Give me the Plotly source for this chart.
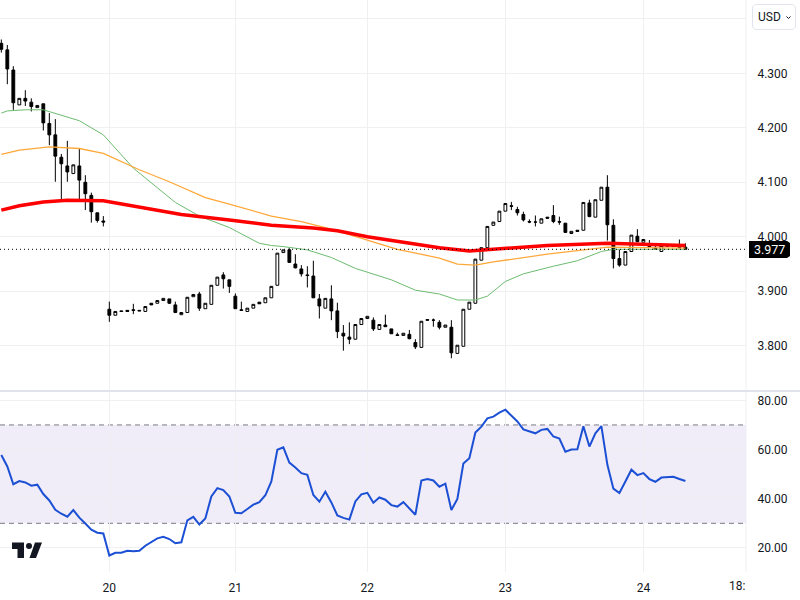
import plotly.graph_objects as go
from plotly.subplots import make_subplots

# hourly candles
open_prices = [
    4.355, 4.343, 4.306, 4.242, 4.254, 4.247, 4.237, 4.244, 4.208, 4.187,
    4.146, 4.130, 4.116, 4.130, 4.100, 4.076, 4.044, 4.029, 3.867, 3.856,
    3.864, 3.865, 3.866, 3.865, 3.863, 3.878, 3.878, 3.883, 3.886, 3.875,
    3.857, 3.861, 3.890, 3.895, 3.868, 3.876, 3.911, 3.930, 3.921, 3.891,
    3.866, 3.863, 3.869, 3.880, 3.879, 3.888, 3.911, 3.971, 3.976, 3.950,
    3.941, 3.930, 3.928, 3.886, 3.869, 3.886, 3.864, 3.823, 3.816, 3.812,
    3.839, 3.850, 3.847, 3.830, 3.838, 3.831, 3.820, 3.819, 3.821, 3.806,
    3.797, 3.848, 3.847, 3.843, 3.834, 3.834, 3.786, 3.799, 3.867, 3.878,
    3.957, 3.980, 4.021, 4.028, 4.047, 4.057, 4.050, 4.041, 4.028, 4.027,
    4.025, 4.036, 4.039, 4.028, 4.025, 4.006, 4.012, 4.012, 4.062, 4.036,
    4.067, 4.091, 4.021, 3.960, 3.948, 3.973, 4.001, 3.990, 3.985, 3.979,
    3.973, 3.984, 3.984, 3.983, 3.981,
]
high_prices = [
    4.362, 4.352, 4.313, 4.254, 4.269, 4.254, 4.241, 4.244, 4.227, 4.216,
    4.152, 4.176, 4.132, 4.161, 4.113, 4.081, 4.044, 4.038, 3.881, 3.863,
    3.864, 3.865, 3.877, 3.865, 3.872, 3.878, 3.883, 3.887, 3.886, 3.881,
    3.861, 3.889, 3.894, 3.899, 3.878, 3.911, 3.926, 3.935, 3.921, 3.896,
    3.881, 3.869, 3.876, 3.880, 3.888, 3.909, 3.970, 3.976, 3.979, 3.968,
    3.948, 3.946, 3.956, 3.895, 3.887, 3.911, 3.879, 3.838, 3.843, 3.839,
    3.850, 3.854, 3.852, 3.839, 3.857, 3.831, 3.824, 3.823, 3.829, 3.812,
    3.845, 3.848, 3.850, 3.847, 3.838, 3.847, 3.801, 3.867, 3.880, 3.959,
    3.980, 4.019, 4.027, 4.047, 4.061, 4.064, 4.055, 4.046, 4.032, 4.039,
    4.033, 4.036, 4.058, 4.037, 4.025, 4.010, 4.012, 4.063, 4.068, 4.068,
    4.091, 4.113, 4.032, 3.977, 3.973, 4.003, 4.014, 3.995, 3.994, 3.983,
    3.984, 3.984, 3.984, 3.995, 3.988,
]
low_prices = [
    4.338, 4.280, 4.233, 4.242, 4.240, 4.230, 4.237, 4.195, 4.168, 4.101,
    4.064, 4.101, 4.116, 4.064, 4.049, 4.026, 4.026, 4.019, 3.844, 3.856,
    3.863, 3.863, 3.858, 3.864, 3.863, 3.875, 3.878, 3.883, 3.877, 3.860,
    3.857, 3.861, 3.890, 3.864, 3.868, 3.876, 3.911, 3.905, 3.897, 3.868,
    3.864, 3.863, 3.869, 3.877, 3.879, 3.888, 3.911, 3.971, 3.953, 3.942,
    3.927, 3.907, 3.888, 3.850, 3.869, 3.847, 3.814, 3.791, 3.803, 3.812,
    3.839, 3.850, 3.827, 3.830, 3.835, 3.822, 3.818, 3.819, 3.812, 3.794,
    3.797, 3.847, 3.835, 3.830, 3.834, 3.777, 3.786, 3.799, 3.867, 3.878,
    3.957, 3.980, 4.021, 4.028, 4.047, 4.049, 4.039, 4.028, 4.025, 4.019,
    4.025, 4.034, 4.025, 4.022, 4.008, 4.006, 4.010, 4.012, 4.036, 4.036,
    4.067, 3.993, 3.942, 3.945, 3.948, 3.973, 3.990, 3.990, 3.981, 3.976,
    3.973, 3.983, 3.982, 3.979, 3.977,
]
close_prices = [
    4.344, 4.308, 4.246, 4.254, 4.249, 4.239, 4.241, 4.209, 4.187, 4.148,
    4.134, 4.119, 4.132, 4.104, 4.079, 4.046, 4.030, 4.027, 3.856, 3.863,
    3.863, 3.863, 3.865, 3.864, 3.872, 3.875, 3.883, 3.887, 3.878, 3.861,
    3.861, 3.889, 3.894, 3.869, 3.878, 3.911, 3.926, 3.923, 3.909, 3.868,
    3.865, 3.869, 3.876, 3.877, 3.888, 3.909, 3.970, 3.976, 3.953, 3.943,
    3.932, 3.929, 3.888, 3.873, 3.887, 3.864, 3.826, 3.818, 3.812, 3.839,
    3.850, 3.854, 3.831, 3.839, 3.835, 3.822, 3.819, 3.823, 3.813, 3.798,
    3.845, 3.847, 3.847, 3.834, 3.838, 3.787, 3.801, 3.867, 3.880, 3.959,
    3.980, 4.019, 4.027, 4.047, 4.061, 4.056, 4.044, 4.031, 4.027, 4.027,
    4.033, 4.034, 4.028, 4.027, 4.008, 4.010, 4.010, 4.063, 4.037, 4.068,
    4.091, 4.022, 3.960, 3.948, 3.973, 4.003, 3.991, 3.995, 3.982, 3.977,
    3.984, 3.983, 3.982, 3.980, 3.977,
]
bars = list(range(len(close_prices)))

# moving averages, read at the bars where the curves bend
red_bars = [0, 3, 7, 11, 17, 24, 30, 38, 45, 52, 56, 61, 68, 73, 78, 84, 91, 101, 114]
red_values = [4.049, 4.057, 4.064, 4.067, 4.066, 4.053, 4.041, 4.031, 4.021, 4.016,
              4.011, 4.000, 3.989, 3.980, 3.974, 3.978, 3.984, 3.988, 3.984]
orange_bars = [0, 3, 8, 13, 17, 23, 28, 34, 38, 45, 50, 55, 61, 66, 73, 76, 79, 82, 91, 98, 101, 114]
orange_values = [4.151, 4.159, 4.165, 4.162, 4.153, 4.123, 4.101, 4.072, 4.060, 4.038, 4.028,
                 4.014, 3.994, 3.977, 3.961, 3.950, 3.948, 3.954, 3.968, 3.977, 3.981, 3.979]
green_bars = [0, 1, 4, 7, 13, 17, 22, 29, 33, 38, 43, 45, 47, 51, 55, 59, 65, 69, 73, 76, 79,
              81, 84, 87, 92, 96, 100, 102, 114]
green_values = [4.227, 4.231, 4.233, 4.233, 4.213, 4.187, 4.126, 4.063, 4.038, 4.017, 3.988,
                3.984, 3.982, 3.976, 3.962, 3.942, 3.921, 3.902, 3.895, 3.884, 3.884,
                3.891, 3.918, 3.932, 3.946, 3.956, 3.973, 3.977, 3.977]

rsi_values = [
    57.8, 53.1, 45.9, 47.2, 46.6, 45.3, 45.7, 41.9, 39.3, 35.5,
    33.9, 32.7, 35.4, 32.3, 29.9, 27.4, 26.2, 25.9, 16.9, 18.0,
    18.0, 18.8, 18.6, 18.8, 20.9, 22.3, 23.9, 24.5, 23.6, 21.9,
    22.3, 31.2, 32.6, 29.5, 32.0, 40.9, 44.3, 43.5, 40.9, 34.3,
    34.1, 35.8, 37.6, 38.6, 41.4, 47.0, 59.9, 60.9, 54.7, 52.7,
    50.4, 49.7, 41.5, 38.8, 42.8, 38.5, 33.2, 32.2, 31.5, 38.9,
    41.8, 42.4, 38.4, 40.5, 39.6, 37.4, 36.8, 38.6, 36.2, 33.5,
    47.4, 48.0, 47.4, 44.9, 46.1, 35.4, 39.9, 54.3, 56.5, 66.9,
    69.3, 72.7, 73.4, 75.0, 76.2, 73.6, 71.4, 68.2, 67.4, 66.6,
    68.0, 68.4, 65.3, 64.5, 59.1, 60.0, 60.1, 69.5, 61.2, 66.6,
    69.5, 53.8, 44.1, 42.3, 47.0, 51.8, 49.6, 50.4, 48.0, 46.9,
    48.6, 48.6, 48.9, 48.0, 47.2,
]
rsi_upper = 70
rsi_lower = 30

day_ticks = [18, 39, 61, 84, 107]
day_labels = ["20", "21", "22", "23", "24"]
price_ticks = [3.8, 3.9, 4.0, 4.1, 4.2, 4.3, 4.4]
# the top gridline has no visible label, the currency button sits there
price_labels = ["3.800", "3.900", "4.000", "4.100", "4.200", "4.300", ""]
rsi_ticks = [20, 40, 60, 80]
rsi_labels = ["20.00", "40.00", "60.00", "80.00"]
last_price = "3.977"

PLOT_W = 746
PLOT_H = 572
GRID = "#F0F0F3"
TEXT = "#131722"
FONT = "Roboto"


def px(x, y):
    return f"{x / PLOT_W:.5f},{1 - y / PLOT_H:.5f}"


def chrome(points, **kwargs):
    path = "M" + " L".join(px(x, y) for x, y in points) + " Z"
    return dict(type="path", path=path, xref="paper", yref="paper", layer="above",
                line={"width": 0}, **kwargs)


def label(text, x, y, anchor="center", color=TEXT, size=12):
    return dict(text=text, xref="paper", yref="paper", x=x / PLOT_W, y=1 - y / PLOT_H,
                xanchor=anchor, yanchor="middle", showarrow=False,
                font={"color": color, "size": size, "family": FONT})


fig = make_subplots(rows=2, cols=1, shared_xaxes=True)

for xs, ys, color, width in [
    (green_bars, green_values, "#6DBB70", 1),
    (orange_bars, orange_values, "#FFA83A", 1.3),
    (red_bars, red_values, "#FF0000", 3.5),
]:
    fig.add_trace(go.Scatter(x=xs, y=ys, mode="lines", line={"color": color, "width": width}), row=1, col=1)

fig.add_trace(
    go.Candlestick(
        x=bars,
        open=open_prices,
        high=high_prices,
        low=low_prices,
        close=close_prices,
        whiskerwidth=0,
        increasing={"line": {"color": "#000000", "width": 1}, "fillcolor": "#FFFFFF"},
        decreasing={"line": {"color": "#000000", "width": 1}, "fillcolor": "#000000"},
    ),
    row=1,
    col=1,
)
fig.add_trace(
    go.Scatter(x=bars, y=rsi_values, mode="lines", line={"color": "#1C50D4", "width": 2}),
    row=2,
    col=1,
)

shapes = [
    # RSI band
    dict(type="rect", xref="x2 domain", yref="y2", x0=0, x1=1, y0=rsi_lower, y1=rsi_upper,
         fillcolor="#F0ECF8", line={"width": 0}, layer="below"),
    dict(type="line", xref="x2 domain", yref="y2", x0=0, x1=1, y0=rsi_upper, y1=rsi_upper,
         line={"color": "#787B86", "width": 1, "dash": "5px,4px"}, layer="below"),
    dict(type="line", xref="x2 domain", yref="y2", x0=0, x1=1, y0=rsi_lower, y1=rsi_lower,
         line={"color": "#787B86", "width": 1, "dash": "5px,4px"}, layer="below"),
    # last price line
    dict(type="line", xref="x domain", yref="y", x0=0, x1=1, y0=float(last_price), y1=float(last_price),
         line={"color": "#000000", "width": 1, "dash": "1px,3px"}, layer="above"),
    # pane separator and price scale edge
    dict(type="line", xref="paper", yref="paper", x0=0, x1=800 / PLOT_W, y0=1 - 391 / PLOT_H, y1=1 - 391 / PLOT_H,
         line={"color": "#E0E3EB", "width": 2}, layer="above"),
    dict(type="line", xref="paper", yref="paper", x0=1, x1=1, y0=0, y1=1,
         line={"color": "#EEF0F4", "width": 1}, layer="below"),
    # last price box
    chrome([(749, 241), (787, 241), (790, 243), (790, 256), (787, 258), (749, 258)], fillcolor="#000000"),
    # currency button
    dict(type="path", xref="paper", yref="paper", layer="above", fillcolor="#FFFFFF",
         line={"color": "#E3E5EC", "width": 1},
         path="M" + " L".join(px(x, y) for x, y in [(755, 4.5), (793, 4.5), (795.5, 7), (795.5, 27),
                                                     (793, 29.5), (755, 29.5), (752.5, 27), (752.5, 7)]) + " Z"),
    dict(type="path", xref="paper", yref="paper", layer="above", line={"color": TEXT, "width": 1},
         path="M" + " L".join(px(x, y) for x, y in [(786.5, 16.5), (788.5, 18.5), (790.5, 16.5)])),
    # TradingView mark
    chrome([(12, 542.5), (24, 542.5), (24, 558), (17.5, 558), (17.5, 549), (12, 549)], fillcolor=TEXT),
    chrome([(35, 542.5), (42, 542.5), (36, 558), (29.5, 558)], fillcolor=TEXT),
    dict(type="circle", xref="paper", yref="paper", layer="above", fillcolor=TEXT, line={"width": 0},
         x0=26 / PLOT_W, x1=32 / PLOT_W, y0=1 - 549 / PLOT_H, y1=1 - 543 / PLOT_H),
]

annotations = [
    label(last_price, 769.5, 249.7, color="#FFFFFF", size=12.5),
    label("USD", 756, 16.5, anchor="left"),
    label("18:", 747, 585.5, anchor="right"),
]

fig.update_layout(
    width=800,
    height=600,
    showlegend=False,
    paper_bgcolor="#FFFFFF",
    plot_bgcolor="#FFFFFF",
    margin={"l": 0, "r": 54, "t": 0, "b": 28},
    font={"family": FONT, "size": 12, "color": TEXT},
    shapes=shapes,
    annotations=annotations,
    boxgap=0.33,
)
fig.update_xaxes(
    range=[-0.22, 124.1],
    tickvals=day_ticks,
    ticktext=day_labels,
    showgrid=True,
    gridcolor=GRID,
    gridwidth=1,
    zeroline=False,
    showline=False,
    rangeslider={"visible": False},
    ticks="",
)
fig.update_xaxes(showticklabels=True, ticks="outside", ticklen=5, tickcolor="rgba(0,0,0,0)",
                 tickfont={"size": 12, "color": TEXT}, row=2, col=1)
fig.update_xaxes(showticklabels=False, row=1, col=1)
fig.update_yaxes(
    side="right",
    showgrid=True,
    gridcolor=GRID,
    gridwidth=1,
    zeroline=False,
    showline=False,
    ticks="outside",
    ticklen=8,
    tickcolor="rgba(0,0,0,0)",
    tickfont={"size": 12, "color": TEXT},
)
fig.update_yaxes(domain=[1 - 391 / PLOT_H, 1], range=[3.717, 4.4345], tickvals=price_ticks, ticktext=price_labels,
                 row=1, col=1)
fig.update_yaxes(domain=[0, 180 / PLOT_H], range=[10.2, 83.4], tickvals=rsi_ticks, ticktext=rsi_labels,
                 row=2, col=1)

fig.write_html("out.html", config={"displayModeBar": False}, post_script="document.body.style.margin='0';")
